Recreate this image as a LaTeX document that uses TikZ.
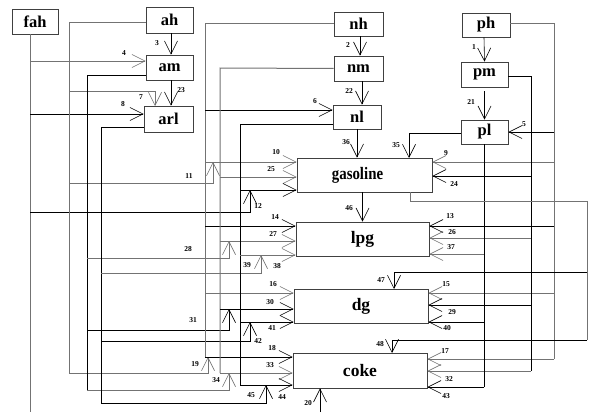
\documentclass[tikz,border=0pt]{standalone}
\usepackage{fontspec}
\setmainfont{Liberation Serif}
\usetikzlibrary{arrows.meta}

\begin{document}
\begin{tikzpicture}[x=1pt,y=-1pt,
  box/.style={draw=black!75, line width=0.8pt, fill=white, inner sep=0pt,
              font=\fontsize{16.5}{16.5}\selectfont\bfseries},
  big/.style={box, font=\fontsize{17.5}{17.5}\selectfont\bfseries},
  bl/.style={draw=black, line width=0.6pt},
  gl/.style={draw=black!55, line width=1pt},
  num/.style={font=\fontsize{7.5}{8}\selectfont\bfseries, inner sep=0pt},
  >={Straight Barb[length=13pt,width=13pt,line width=0.6pt]}
]
\useasboundingbox[fill=white] (0,0) rectangle (593,412);

% ---------- boxes ----------
\node[box, minimum width=46pt, minimum height=25pt] (fah) at (35,21.5) {fah};
\node[box, minimum width=47pt, minimum height=26pt] (ah)  at (169.5,20) {ah};
\node[box, minimum width=47pt, minimum height=25pt] (am)  at (169.5,67.5) {am};
\node[box, minimum width=49pt, minimum height=26pt] (arl) at (168.5,119) {arl};
\node[box, minimum width=49pt, minimum height=24pt] (nh)  at (358.5,24) {nh};
\node[box, minimum width=49pt, minimum height=25pt] (nm)  at (358.5,68.5) {nm};
\node[box, minimum width=48pt, minimum height=24pt] (nl)  at (357,117) {nl};
\node[box, minimum width=48pt, minimum height=24pt] (ph)  at (486,25) {ph};
\node[box, minimum width=47pt, minimum height=25pt] (pm)  at (484.5,74.5) {pm};
\node[box, minimum width=47pt, minimum height=24pt] (pl)  at (484.5,132) {pl};
\node[big, minimum width=135pt, minimum height=34pt] (gas)  at (364.5,175) {\hspace*{-14pt}\scalebox{0.85}[1]{gasoline}};
\node[big, minimum width=133pt, minimum height=34pt] (lpg)  at (362.5,239) {lpg};
\node[big, minimum width=134pt, minimum height=34pt] (dg)   at (361,306) {dg};
\node[big, minimum width=134pt, minimum height=35pt] (coke) at (360,370.5) {coke};

% ---------- trunk junctions ----------
% fah
\coordinate (fTop) at (30,34);   \coordinate (fEnd) at (30,412);
\coordinate (fA) at (30,61);     \coordinate (fB) at (30,114);  \coordinate (fC) at (30,212);
% ah
\coordinate (aT) at (69,23);
\coordinate (aA) at (69,91);     \coordinate (aB) at (69,183);  \coordinate (aC) at (69,373);
% am
\coordinate (mT) at (87,75);
\coordinate (mA) at (87,258);    \coordinate (mB) at (87,330);  \coordinate (mC) at (87,390);
% arl
\coordinate (rT) at (101,127);
\coordinate (rA) at (101,273);   \coordinate (rB) at (101,341); \coordinate (rC) at (101,403);
% nh
\coordinate (hT) at (205,24);
\coordinate (hA) at (205,110);   \coordinate (hB) at (205,162); \coordinate (hC) at (205,226);
\coordinate (hD) at (205,293);   \coordinate (hE) at (205,357);
% nm
\coordinate (nT) at (220,68);
\coordinate (nB) at (220,177);   \coordinate (nC) at (220,241);
\coordinate (nD) at (220,309);   \coordinate (nE) at (220,373);
% nl
\coordinate (lT) at (240,124);
\coordinate (lB) at (240,190);   \coordinate (lC) at (240,255);
\coordinate (lD) at (240,322);   \coordinate (lE) at (240,385);
% ph
\coordinate (pT) at (554,24);
\coordinate (pA) at (554,132);   \coordinate (pB) at (554,162); \coordinate (pC) at (554,226);
\coordinate (pD) at (554,293);   \coordinate (pE) at (554,359);
% pm
\coordinate (qT) at (531,76);
\coordinate (qB) at (531,176);   \coordinate (qC) at (531,238);
\coordinate (qD) at (531,305);   \coordinate (qE) at (531,371);
% pl
\coordinate (sB) at (484,144);
\coordinate (sC) at (484,254);   \coordinate (sD) at (484,322); \coordinate (sE) at (484,387);
% gasoline loop
\coordinate (g0) at (410,192);   \coordinate (g1) at (587,201);
\coordinate (g2) at (587,272);   \coordinate (g3) at (587,340);
% feed from below
\coordinate (feed) at (320,412);

% ---------- straight feeds between boxes ----------
\draw[bl,->] ([xshift=1.5pt]ah.south) -- ([xshift=1.5pt]am.north);
\draw[bl,->] ([xshift=1.5pt]am.south) -- ([xshift=2.5pt]arl.north);
\draw[bl,->] ([xshift=1.5pt]nh.south) -- ([xshift=1.5pt]nm.north);
\draw[bl,->] ([xshift=3.5pt]nm.south) -- ([xshift=5pt]nl.north);
\draw[bl,->] ([xshift=-2pt]ph.south) -- (pm.north);
\draw[bl,->] ([yshift=-4pt]pm.south) -- (pl.north);
\draw[bl,->] (nl.south) -- (nl.south |- gas.north);
\draw[bl,->] (gas.south -| lpg.north) -- (lpg.north);
\draw[bl,->] (feed) -- (feed |- coke.south);

% ---------- fah ----------
\draw[gl] (fTop) -- (fEnd);
\draw[gl,->] (fA) -- (fA -| am.west);
\draw[bl,->] (fB) -- (fB -| arl.west);
\draw[bl,->] (fC) -| (250,190);

% ---------- ah ----------
\draw[gl] ([yshift=-3pt]ah.west) -- (aT) -- (aC);
\draw[gl,->] (aA) -| (155,106);
\draw[gl,->] (aB) -| (213,162);
\draw[gl,->] (aC) -| (208,357);

% ---------- am ----------
\draw[bl] ([yshift=-7.5pt]am.west) -- (mT) -- (mC);
\draw[gl,->] (mA) -| (229,241);
\draw[bl,->] (mB) -| (229,309);
\draw[gl,->] (mC) -| (229,373);

% ---------- arl ----------
\draw[bl] ([yshift=-8pt]arl.west) -- (rT) -- (rC);
\draw[gl,->] (rA) -| (261,255);
\draw[bl,->] (rB) -| (250,322);
\draw[bl,->] (rC) -| (266,385);

% ---------- nh ----------
\draw[gl] (nh.west) -- (hT) -- (hE);
\draw[bl,->] (hA) -- (hA -| nl.west);
\draw[gl,->] (hB) -- (hB -| gas.west);
\draw[bl,->] (hC) -- (hC -| lpg.west);
\draw[gl,->] (hD) -- (hD -| dg.west);
\draw[bl,->] (hE) -- (hE -| coke.west);

% ---------- nm ----------
\draw[gl] (nm.west) -- (nT) -- (nE);
\draw[gl,->] (nB) -- (nB -| gas.west);
\draw[gl,->] (nC) -- (nC -| lpg.west);
\draw[bl,->] (nD) -- (nD -| dg.west);
\draw[gl,->] (nE) -- (nE -| coke.west);

% ---------- nl ----------
\draw[bl] ([yshift=-7pt]nl.west) -- (lT) -- (lE);
\draw[bl,->] (lB) -- (lB -| gas.west);
\draw[gl,->] (lC) -- (lC -| lpg.west);
\draw[bl,->] (lD) -- (lD -| dg.west);
\draw[bl,->] (lE) -- (lE -| coke.west);

% ---------- ph ----------
\draw[gl] ([yshift=1pt]ph.east) -- (pT) -- (pE);
\draw[bl,->] (pA) -- (pA -| pl.east);
\draw[gl,->] (pB) -- (pB -| gas.east);
\draw[bl,->] (pC) -- (pC -| lpg.east);
\draw[gl,->] (pD) -- (pD -| dg.east);
\draw[gl,->] (pE) -- (pE -| coke.east);

% ---------- pm ----------
\draw[bl] ([yshift=-1.5pt]pm.east) -- (qT) -- (qE);
\draw[bl,->] (qB) -- (qB -| gas.east);
\draw[gl,->] (qC) -- (qC -| lpg.east);
\draw[bl,->] (qD) -- (qD -| dg.east);
\draw[gl,->] (qE) -- (qE -| coke.east);

% ---------- pl ----------
\draw[bl,->] ([yshift=-1pt]pl.west) -| (409,158);
\draw[bl] (sB) -- (sE);
\draw[gl,->] (sC) -- (sC -| lpg.east);
\draw[bl,->] (sD) -- (sD -| dg.east);
\draw[bl,->] (sE) -- (sE -| coke.east);

% ---------- gasoline recycle ----------
\draw[gl] (g0) |- (g1) -- (g3);
\draw[bl,->] (g2) -| (394,289);
\draw[bl,->] (g3) -| (392,353);

% ---------- stream numbers ----------
\foreach \t/\x/\y in {
  3/157/43, 4/124/53, 23/181/90, 7/141/97, 8/123/104,
  2/348/45, 22/349/91, 6/315/101, 36/346/142,
  1/474/47, 21/471/102, 5/524/124, 35/396/145, 9/446/153, 24/454/184,
  10/276/152, 25/271/169, 11/189/176, 12/258/206,
  46/349/208, 13/450/216, 26/452/232, 37/451/247,
  14/275/217, 27/273/234, 28/188/249, 39/247/265, 38/277/266,
  47/381/280, 15/446/284, 29/452/312, 40/447/328,
  16/273/284, 30/270/302, 41/272/328, 31/193/320, 42/258/341,
  48/380/344, 17/445/351, 32/449/379, 43/446/396,
  18/272/348, 33/270/365, 44/282/397, 19/195/364, 34/216/380, 45/251/395,
  20/308/403}
  \node[num] at (\x,\y) {\t};

\end{tikzpicture}
\end{document}
